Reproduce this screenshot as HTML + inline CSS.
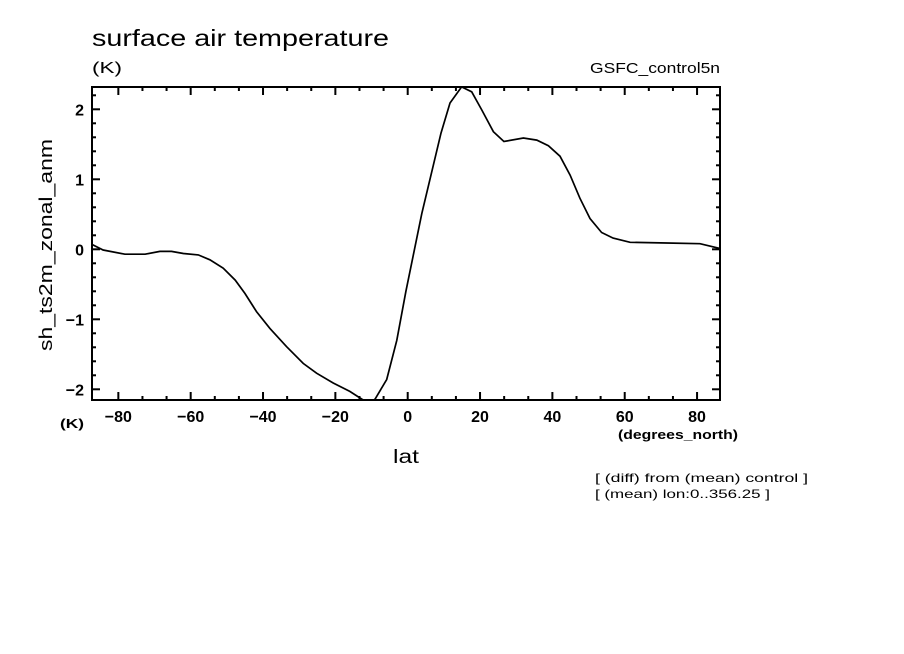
<!DOCTYPE html>
<html><head><meta charset="utf-8">
<style>
body{margin:0;background:#fff;}
svg{display:block;font-family:"Liberation Sans",sans-serif;}
</style></head>
<body>
<svg id="chart" width="904" height="654" viewBox="0 0 904 654">
<text x="92" y="46" font-size="23" textLength="297" lengthAdjust="spacingAndGlyphs">surface air temperature</text>
<text x="92" y="73" font-size="16" textLength="30" lengthAdjust="spacingAndGlyphs">(K)</text>
<text x="590" y="73" font-size="15" textLength="130" lengthAdjust="spacingAndGlyphs">GSFC_control5n</text>
<text x="0" y="0" font-size="18" text-anchor="middle" textLength="212" lengthAdjust="spacingAndGlyphs" transform="translate(52,245) rotate(-90)">sh_ts2m_zonal_anm</text>
<text x="60" y="428" font-size="13" font-weight="bold" textLength="24" lengthAdjust="spacingAndGlyphs">(K)</text>
<text x="618" y="439" font-size="13" font-weight="bold" textLength="120" lengthAdjust="spacingAndGlyphs">(degrees_north)</text>
<text x="406" y="463" font-size="19" text-anchor="middle" textLength="26" lengthAdjust="spacingAndGlyphs">lat</text>
<text x="595" y="482" font-size="12" textLength="213" lengthAdjust="spacingAndGlyphs">[ (diff) from (mean) control ]</text>
<text x="595" y="498" font-size="12" textLength="175" lengthAdjust="spacingAndGlyphs">[ (mean) lon:0..356.25 ]</text>
<defs><clipPath id="plotclip"><rect x="92" y="87" width="628" height="313"/></clipPath></defs>
<g id="axes"></g>
<path id="line" fill="none" stroke="#000" stroke-width="1.7" clip-path="url(#plotclip)"/>
<rect x="92" y="87" width="628" height="313" fill="none" stroke="#000" stroke-width="2"/>
</svg>
<script>
const lats=[-87.3,-84.2,-78.2,-72.6,-68.5,-65.3,-62,-57.9,-54.7,-51,-47.7,-45,-41.8,-38.1,-33.5,-28.9,-25.2,-20.6,-16,-12.7,-10.5,-9,-5.8,-3,-0.5,3.9,9.2,11.7,14.9,17.7,20.5,23.7,26.6,32,35.7,38.9,42.1,44.9,47.6,50.4,53.6,56.8,61.5,71.6,80.8,86.5];
const vals=[0.07,-0.01,-0.07,-0.07,-0.03,-0.03,-0.06,-0.08,-0.15,-0.27,-0.44,-0.63,-0.89,-1.13,-1.39,-1.63,-1.77,-1.91,-2.03,-2.14,-2.2,-2.14,-1.86,-1.3,-0.6,0.51,1.66,2.09,2.32,2.25,1.99,1.68,1.54,1.59,1.56,1.48,1.33,1.06,0.73,0.44,0.24,0.16,0.1,0.09,0.08,0.01];
const xTicks=[-80,-60,-40,-20,0,20,40,60,80];
const yTicks=[-2,-1,0,1,2];
const X=v=>407.7+v*3.617;
const Y=v=>249.3-v*70;
const ns="http://www.w3.org/2000/svg";
const svg=document.getElementById('chart');
const ax=document.getElementById('axes');
function ln(x1,y1,x2,y2,name){const l=document.createElementNS(ns,'line');
l.setAttribute('x1',x1);l.setAttribute('y1',y1);l.setAttribute('x2',x2);l.setAttribute('y2',y2);
l.setAttribute('stroke','#000');l.setAttribute('stroke-width','2');


ax.appendChild(l);}
function tx(x,y,s,anchor,name){const t=document.createElementNS(ns,'text');
t.setAttribute('x',x);t.setAttribute('y',y);t.setAttribute('font-size','16');t.setAttribute('font-weight','bold');t.setAttribute('text-anchor',anchor);t.textContent=s;


svg.appendChild(t);}
for(let v=-80;v<=86;v+=20/3){const x=X(v);const maj=Math.abs(v/20-Math.round(v/20))<0.01;const L=maj?8:4;
ln(x,400,x,400-L,'x-tick');ln(x,87,x,87+L,'x-tick');}
for(let v=-2;v<=2.31;v+=0.2){const y=Y(v);const maj=Math.abs(v-Math.round(v))<0.01;const L=maj?8:4;
ln(92,y,92+L,y,'y-tick');ln(720,y,720-L,y,'y-tick');}
xTicks.forEach(v=>tx(X(v),422,v<0?'\u2212'+(-v):String(v),'middle','x-tick-label'));
yTicks.forEach(v=>tx(84,Y(v)+6,v<0?'\u2212'+(-v):String(v),'end','y-tick-label'));
document.getElementById('line').setAttribute('d',lats.map((l,i)=>(i?'L':'M')+X(l).toFixed(1)+' '+Y(vals[i]).toFixed(1)).join(' '));
</script>
</body></html>
